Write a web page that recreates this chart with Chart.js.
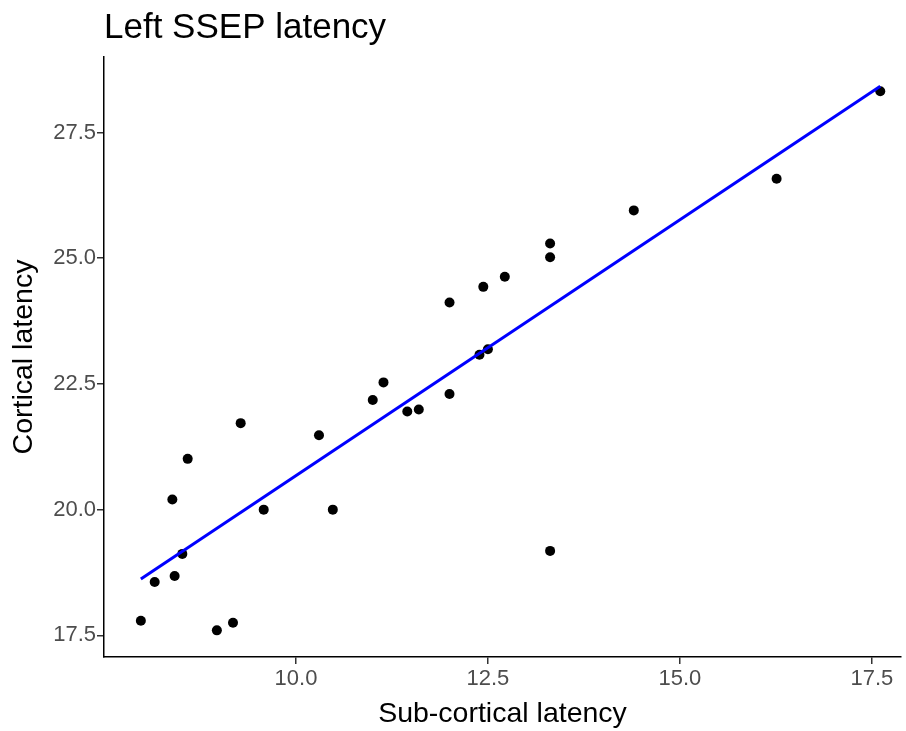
<!DOCTYPE html>
<html>
<head>
<meta charset="utf-8">
<script src="https://cdn.jsdelivr.net/npm/chart.js@4"></script>
<style>
  body { margin: 0; background: #fff; }
</style>
</head>
<body>
<canvas id="myChart" width="906" height="731"></canvas>
<script>
// data
const subCortical = [7.98, 8.16, 8.39, 8.42, 8.52, 8.59, 8.97, 9.18, 9.28, 9.58,
  10.30, 10.48, 11.00, 11.14, 11.45, 11.60, 12.00, 12.00, 12.39, 12.50,
  12.44, 12.72, 13.31, 13.31, 13.31, 14.40, 16.26, 17.61];
const cortical = [17.79, 18.56, 20.20, 18.68, 19.12, 21.01, 17.60, 17.75, 21.72, 20.00,
  21.48, 20.00, 22.18, 22.53, 21.95, 21.99, 22.30, 24.12, 23.08, 23.19,
  24.43, 24.63, 25.02, 25.29, 19.18, 25.95, 26.58, 28.32];

// fitted line ends (lm)
const fitX = [7.98, 17.61];
const fitY = [18.62, 28.42];

const xTicks = [10, 12.5, 15, 17.5];
const yTicks = [17.5, 20, 22.5, 25, 27.5];

const font = "'Liberation Sans', Arial, sans-serif";

const points = subCortical.map((x, i) => ({ x: x, y: cortical[i] }));
const fit = fitX.map((x, i) => ({ x: x, y: fitY[i] }));

const config = {
  type: "scatter",
  data: {
    datasets: [
      {
        label: "points",
        data: points,
        backgroundColor: "#000",
        borderWidth: 0,
        pointRadius: 5,
        order: 2,
      },
      {
        type: "line",
        label: "fit",
        data: fit,
        borderColor: "#0000ff",
        borderWidth: 3,
        pointRadius: 0,
        fill: false,
        order: 1,
      },
    ],
  },
  options: {
    responsive: false,
    animation: false,
    layout: { padding: 0 },
    plugins: {
      legend: { display: false },
      tooltip: { enabled: false },
      title: {
        display: true,
        text: "Left SSEP latency",
        align: "start",
        fullSize: false,
        color: "#000",
        font: { family: font, size: 35, weight: "normal" },
        padding: { top: 7, bottom: 8 },
      },
    },
    scales: {
      x: {
        type: "linear",
        min: 7.5,
        max: 17.88,
        afterBuildTicks: (s) => { s.ticks = xTicks.map(v => ({ value: v })); },
        afterFit: (s) => { s.height = 74; },
        ticks: {
          callback: (v) => Number(v).toFixed(1),
          color: "#4d4d4d",
          font: { family: font, size: 22 },
          padding: 2,
          maxRotation: 0,
        },
        grid: { drawOnChartArea: false, tickLength: 7, color: "#333", lineWidth: 1.5 },
        border: { color: "#000", width: 1.5 },
        title: {
          display: true,
          text: "Sub-cortical latency",
          color: "#000",
          font: { family: font, size: 28.5 },
          padding: { top: 0, bottom: 0 },
        },
      },
      y: {
        type: "linear",
        min: 17.07,
        max: 29.0,
        afterBuildTicks: (s) => { s.ticks = yTicks.map(v => ({ value: v })); },
        afterFit: (s) => { s.width = 104; },
        ticks: {
          callback: (v) => Number(v).toFixed(1),
          color: "#4d4d4d",
          font: { family: font, size: 22 },
          padding: 1,
        },
        grid: { drawOnChartArea: false, tickLength: 7, color: "#333", lineWidth: 1.5 },
        border: { color: "#000", width: 1.5 },
        title: {
          display: true,
          text: "Cortical latency",
          color: "#000",
          font: { family: font, size: 28.5 },
          padding: { top: 7, bottom: 0 },
        },
      },
    },
  },
};

const myChart = new Chart(document.getElementById("myChart"), config);
</script>
</body>
</html>
